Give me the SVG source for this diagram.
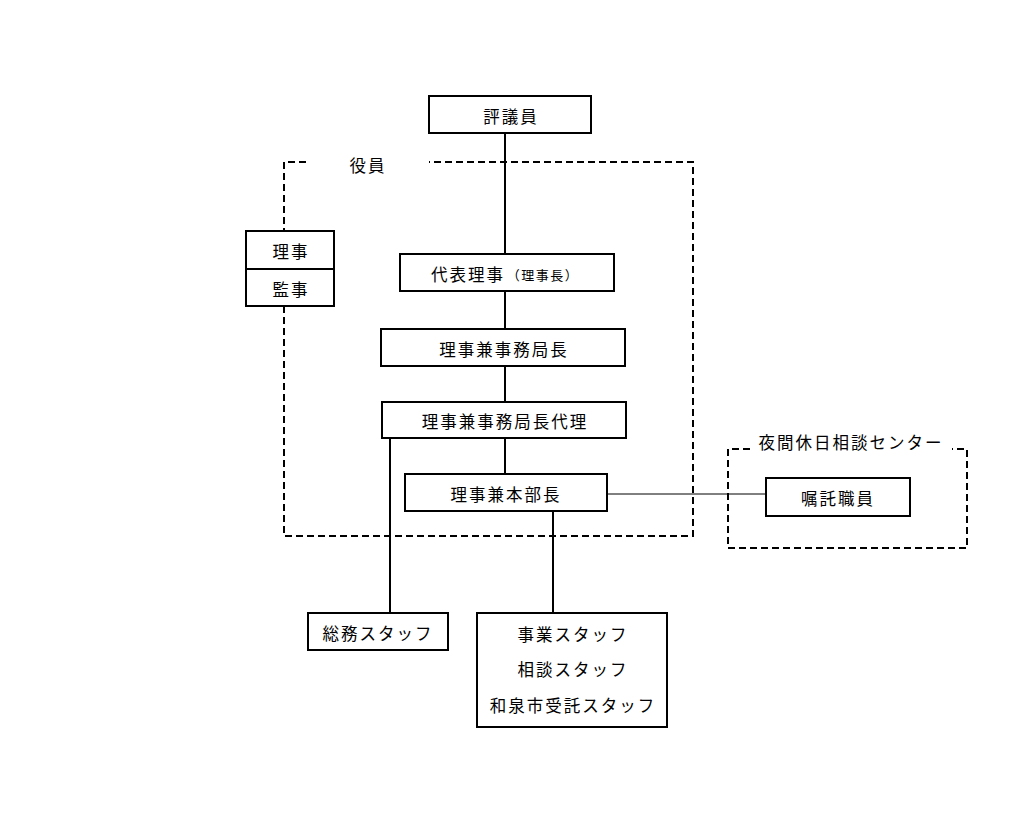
<svg xmlns="http://www.w3.org/2000/svg" width="1024" height="834" viewBox="0 0 1024 834">
<style>
.box{fill:#fff;stroke:#000;stroke-width:2}
.t{font-family:"Noto Sans CJK JP","Noto Sans CJK SC",sans-serif;font-size:16.5px;font-weight:400;fill:#000;text-anchor:middle;dominant-baseline:central;letter-spacing:2px}
.s{font-size:13px;letter-spacing:1.5px}
.dash{fill:none;stroke:#000;stroke-width:2;stroke-dasharray:7 4}
.ln{fill:none;stroke:#000;stroke-width:2}
.thin{fill:none;stroke:#000;stroke-width:1}
</style>
<rect width="1024" height="834" fill="#fff"/>
<g id="groups">
<path class="dash" d="M306,162 H284 V231 M284,306 V536 H693 V162 H429"/>
<text class="t" x="368" y="165">役員</text>
<path class="dash" d="M750,449 H728 V548 H967 V449 H952"/>
<text class="t" x="851" y="442">夜間休日相談センター</text>
</g>
<g id="connectors">
<line class="ln" x1="505" y1="133" x2="505" y2="254"/>
<line class="ln" x1="505" y1="291" x2="505" y2="329"/>
<line class="ln" x1="505" y1="366" x2="505" y2="402"/>
<line class="ln" x1="505" y1="438" x2="505" y2="474"/>
<line class="ln" x1="390" y1="438" x2="390" y2="613"/>
<line class="ln" x1="553" y1="511" x2="553" y2="613"/>
<line class="thin" x1="607" y1="494" x2="766" y2="494"/>
</g>
<g id="n-hyogiin"><rect class="box" x="429" y="96" width="162" height="37"/><text class="t" x="511" y="116">評議員</text></g>
<g id="n-riji"><rect class="box" x="246" y="231" width="88" height="38"/><text class="t" x="291" y="251">理事</text></g>
<g id="n-kanji"><rect class="box" x="246" y="269" width="88" height="37"/><text class="t" x="291" y="289">監事</text></g>
<g id="n-daihyo"><rect class="box" x="400" y="254" width="214" height="37"/><text class="t" x="468" y="274">代表理事</text><text class="t s" x="543" y="274">（理事長）</text></g>
<g id="n-jimukyokucho"><rect class="box" x="381" y="329" width="244" height="37"/><text class="t" x="504" y="349">理事兼事務局長</text></g>
<g id="n-dairi"><rect class="box" x="382" y="402" width="244" height="36"/><text class="t" x="505" y="421">理事兼事務局長代理</text></g>
<g id="n-honbucho"><rect class="box" x="405" y="474" width="202" height="37"/><text class="t" x="506" y="494">理事兼本部長</text></g>
<g id="n-shokutaku"><rect class="box" x="766" y="478" width="144" height="38"/><text class="t" x="838" y="498">嘱託職員</text></g>
<g id="n-somu"><rect class="box" x="308" y="613" width="140" height="37"/><text class="t" x="378" y="633">総務スタッフ</text></g>
<g id="n-staff"><rect class="box" x="477" y="613" width="190" height="114"/>
<text class="t" x="573" y="634">事業スタッフ</text>
<text class="t" x="573" y="669">相談スタッフ</text>
<text class="t" x="573" y="705">和泉市受託スタッフ</text></g>
</svg>
